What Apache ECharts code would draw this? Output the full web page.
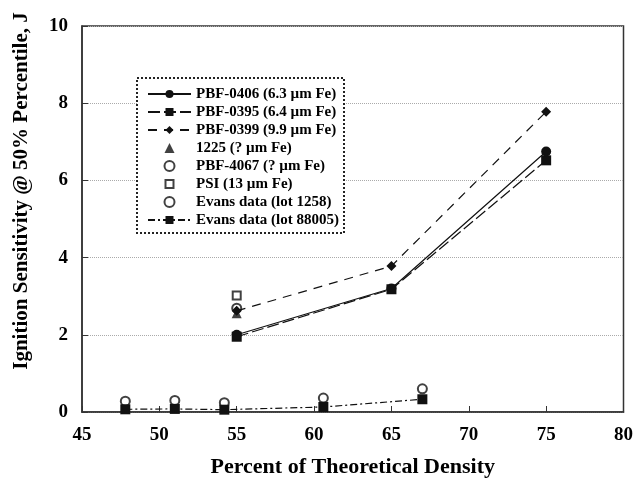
<!DOCTYPE html>
<html>
<head>
<meta charset="utf-8">
<script src="https://cdn.jsdelivr.net/npm/echarts@6/dist/echarts.min.js"></script>
<style>
  html, body { margin: 0; padding: 0; background: #fff; }
  #chart { width: 636px; height: 483px; }
</style>
</head>
<body>
<div id="chart"></div>
<script>
  // densities for the three PBF series
  var densityMain = [55, 65, 75];
  var pbf0406 = [2.0, 3.2, 6.75];
  var pbf0395 = [1.95, 3.18, 6.52];
  var pbf0399 = [2.62, 3.78, 7.78];

  // single points at 55 %
  var lot1225 = [[55, 2.56]];
  var pbf4067 = [[55, 2.69]];
  var psi = [[55, 3.02]];

  // Evans data
  var evansDensity = [47.8, 51.0, 54.2, 60.6, 67.0];
  var evans1258 = [0.28, 0.3, 0.24, 0.36, 0.6];
  var evans88005 = [0.07, 0.08, 0.06, 0.13, 0.33];

  var xTicks = [45, 50, 55, 60, 65, 70, 75, 80];
  var yTicks = [0, 2, 4, 6, 8, 10];

  var names = [
    'PBF-0406 (6.3 µm Fe)',
    'PBF-0395 (6.4 µm Fe)',
    'PBF-0399 (9.9 µm Fe)',
    '1225 (? µm Fe)',
    'PBF-4067 (? µm Fe)',
    'PSI (13 µm Fe)',
    'Evans data (lot 1258)',
    'Evans data (lot 88005)'
  ];

  function zip(xs, ys) {
    return xs.map(function (x, i) { return [x, ys[i]]; });
  }

  // path symbols keep their aspect in the legend
  var triPath = 'path://M5,0L10,10L0,10Z';
  var hollowSquare = 'path://M0,0L10,0L10,10L0,10ZM2,2L2,8L8,8L8,2Z';

  var serif = 'Liberation Serif, Times New Roman, serif';
  var ink = '#111';

  var chart = echarts.init(document.getElementById('chart'));

  var option = {
    animation: false,
    backgroundColor: '#fff',
    grid: {
      left: 82,
      top: 26,
      right: 12,
      bottom: 66,
      show: true,
      borderColor: '#333',
      borderWidth: 1.5
    },
    graphic: [{
      type: 'rect',
      shape: { x: 137, y: 78, width: 207, height: 155 },
      style: { fill: '#fff', stroke: '#222', lineWidth: 2, lineDash: [2, 2] },
      z: 90
    }],
    legend: {
      orient: 'vertical',
      left: 147,
      top: 86,
      padding: 0,
      itemWidth: 43,
      itemHeight: 10,
      itemGap: 2,
      data: names,
      z: 100,
      textStyle: {
        fontFamily: serif,
        fontWeight: 'bold',
        fontSize: 15,
        lineHeight: 16,
        color: '#000'
      }
    },
    xAxis: {
      type: 'value',
      min: 45,
      max: 80,
      interval: 5,
      name: 'Percent of Theoretical Density',
      nameLocation: 'middle',
      nameGap: 44,
      nameTextStyle: { fontFamily: serif, fontWeight: 'bold', fontSize: 22, color: '#000' },
      axisLine: { lineStyle: { color: '#333', width: 1.5 } },
      axisTick: { inside: true, length: 6, lineStyle: { color: '#333' } },
      axisLabel: {
        margin: 14,
        fontFamily: serif,
        fontWeight: 'bold',
        fontSize: 19,
        color: '#000',
        formatter: function (v) { return xTicks.indexOf(v) >= 0 ? v : ''; }
      },
      splitLine: { show: false }
    },
    yAxis: {
      type: 'value',
      min: 0,
      max: 10,
      interval: 2,
      name: 'Ignition Sensitivity @ 50% Percentile, J',
      nameLocation: 'middle',
      nameGap: 50,
      nameTextStyle: {
        fontFamily: serif, fontWeight: 'bold', fontSize: 21, color: '#000',
        padding: [0, 0, 0, 56]
      },
      axisLine: { show: true, lineStyle: { color: '#333', width: 1.5 } },
      axisTick: { show: true, inside: true, length: 6, lineStyle: { color: '#333' } },
      axisLabel: {
        margin: 14,
        fontFamily: serif,
        fontWeight: 'bold',
        fontSize: 19,
        color: '#000',
        formatter: function (v) { return yTicks.indexOf(v) >= 0 ? v : ''; }
      },
      splitLine: { show: true, lineStyle: { color: '#aaa', type: 'dotted', width: 1 } }
    },
    series: [
      {
        name: names[2],
        type: 'line',
        data: zip(densityMain, pbf0399),
        symbol: 'diamond',
        symbolSize: 10,
        itemStyle: { color: ink },
        lineStyle: { color: ink, width: 1.2, type: [9, 7] }
      },
      {
        name: names[1],
        type: 'line',
        data: zip(densityMain, pbf0395),
        symbol: 'rect',
        symbolSize: 10,
        itemStyle: { color: ink },
        lineStyle: { color: ink, width: 1.2, type: [12, 4] }
      },
      {
        name: names[0],
        type: 'line',
        data: zip(densityMain, pbf0406),
        symbol: 'circle',
        symbolSize: 10,
        itemStyle: { color: ink },
        lineStyle: { color: ink, width: 1.2, type: 'solid' }
      },
      {
        name: names[3],
        type: 'scatter',
        data: lot1225,
        symbol: triPath,
        symbolSize: 10,
        itemStyle: { color: ink }
      },
      {
        name: names[4],
        type: 'scatter',
        data: pbf4067,
        symbol: 'emptyCircle',
        symbolSize: 9,
        itemStyle: { color: ink, borderColor: ink, borderWidth: 1.5 }
      },
      {
        name: names[4],
        type: 'scatter',
        data: pbf4067,
        symbol: 'circle',
        symbolSize: 3,
        itemStyle: { color: ink }
      },
      {
        name: names[5],
        type: 'scatter',
        data: psi,
        symbol: hollowSquare,
        symbolSize: 10,
        itemStyle: { color: ink }
      },
      {
        name: names[7],
        type: 'line',
        data: zip(evansDensity, evans88005),
        symbol: 'rect',
        symbolSize: 10,
        itemStyle: { color: ink },
        lineStyle: { color: ink, width: 1.2, type: [7, 3, 2, 3] }
      },
      {
        name: names[6],
        type: 'scatter',
        data: zip(evansDensity, evans1258),
        symbol: 'emptyCircle',
        symbolSize: 9,
        itemStyle: { color: ink, borderColor: ink, borderWidth: 1.5 }
      }
    ]
  };

  chart.setOption(option);
</script>
</body>
</html>
